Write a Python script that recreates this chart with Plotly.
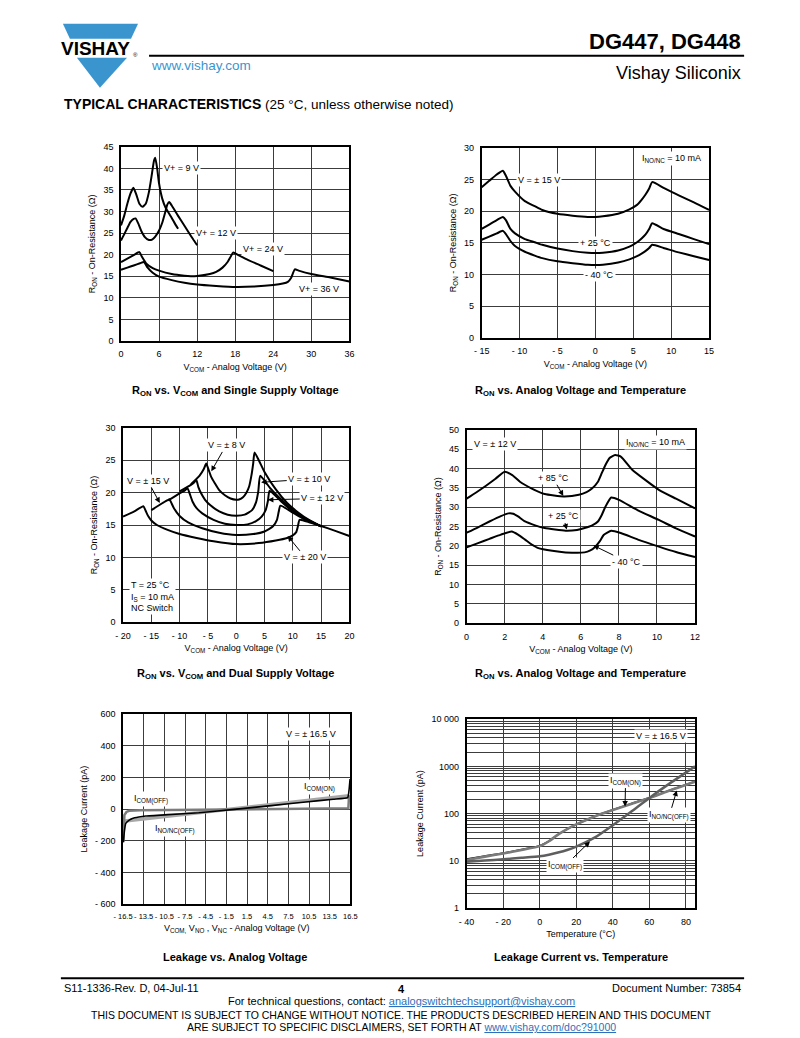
import math
import plotly.graph_objects as go

W, H = 800, 1038
FONT = "Liberation Sans, Arial, sans-serif"

# ---------------- data ----------------
# Panel 1: RON vs VCOM, single supply
p1_9v_x = [0, 0.5, 1, 1.5, 1.95, 2.4, 2.9, 3.4, 3.9, 4.4, 4.9, 5.2, 5.4, 5.7, 6.0, 6.5, 7.0, 7.5, 8.0, 8.5, 9.0]
p1_9v_y = [26.8, 29.0, 31.8, 34.2, 35.5, 34.0, 31.8, 31.1, 31.8, 34.5, 39.0, 41.8, 42.5, 40.0, 36.5, 33.0, 31.0, 29.7, 28.5, 27.2, 26.0]
p1_12v_x = [0, 0.5, 1, 1.5, 2.0, 2.3, 2.7, 3.2, 3.8, 4.4, 4.9, 5.4, 6.0, 6.5, 7.0, 7.3, 7.6, 8.0, 9.0, 10.0, 11.0, 12.0]
p1_12v_y = [23.3, 24.7, 26.2, 27.6, 28.3, 28.4, 27.3, 25.5, 24.0, 23.4, 23.5, 24.2, 25.6, 27.4, 30.0, 31.6, 32.2, 31.4, 29.0, 26.7, 24.4, 22.2]
p1_24v_x = [0, 1, 2, 2.9, 3.3, 4, 5, 6, 8, 10, 11, 12, 14, 15, 16, 16.8, 17.3, 17.7, 18.5, 20, 22, 24]
p1_24v_y = [18.3, 19.1, 19.9, 20.6, 19.5, 17.9, 16.9, 16.3, 15.5, 15.1, 15.0, 15.05, 15.5, 16.0, 17.0, 18.3, 19.6, 20.5, 19.9, 18.8, 17.5, 16.2]
p1_36v_x = [0, 1, 2, 3, 3.6, 4.2, 5, 6, 8, 10, 12, 15, 18, 21, 24, 25.5, 26.3, 26.8, 27.4, 28, 30, 33, 36]
p1_36v_y = [16.5, 17.0, 17.5, 18.0, 18.3, 17.0, 15.8, 14.9, 14.1, 13.5, 13.1, 12.75, 12.5, 12.6, 12.95, 13.3, 13.7, 14.6, 16.6, 16.3, 15.5, 14.7, 13.8]

# Panel 2: RON vs analog voltage and temperature (+/-15 V)
p2_x = [-15, -14, -13, -12.2, -11.8, -11.2, -10.6, -9.3, -8, -7, -5, -3, -1, 0, 1, 3, 4.5, 5.5, 6.1, 6.6, 7.1, 7.5, 9, 11, 13, 15]
p2_85c = [23.8, 24.8, 25.8, 26.4, 25.6, 24.0, 23.1, 21.6, 20.8, 20.2, 19.6, 19.3, 19.1, 19.1, 19.2, 19.6, 20.3, 21.0, 21.8, 22.6, 23.6, 24.6, 23.7, 22.5, 21.4, 20.2]
p2_25c = [17.2, 17.9, 18.6, 19.1, 18.6, 17.2, 16.5, 15.6, 15.1, 14.7, 14.1, 13.7, 13.45, 13.4, 13.45, 13.8, 14.4, 15.1, 15.7, 16.3, 17.2, 18.1, 17.2, 16.4, 15.6, 14.8]
p2_m40c = [15.5, 16.0, 16.5, 16.9, 16.4, 15.3, 14.5, 13.6, 13.0, 12.6, 12.1, 11.8, 11.55, 11.5, 11.55, 11.9, 12.4, 12.9, 13.3, 13.7, 14.2, 14.7, 14.2, 13.5, 12.9, 12.3]

# Panel 3: RON vs VCOM, dual supply
p3_8v_x = [-8, -6.5, -5.7, -5.3, -4.9, -4.4, -3.8, -3, -2, -1, 0, 0.5, 1.2, 1.8, 2.3, 2.7, 3.0, 3.25, 5, 7, 9, 11, 13, 15]
p3_8v_y = [21.3, 22.6, 23.7, 24.5, 23.6, 22.4, 21.5, 20.4, 19.6, 19.1, 18.9, 18.95, 19.3, 20.0, 21.0, 22.7, 24.5, 26.2, 23.2, 20.5, 18.4, 16.9, 15.7, 14.8]
p3_10v_x = [-10, -8, -7.4, -7.05, -6.7, -6.2, -5.5, -4.5, -3, -1.5, 0, 1.5, 2.8, 3.5, 3.9, 4.25, 6, 8, 10, 12, 15]
p3_10v_y = [20.2, 21.2, 21.6, 22.0, 20.9, 19.9, 18.9, 18.0, 17.1, 16.6, 16.45, 16.6, 17.3, 18.5, 20.2, 22.6, 20.7, 18.9, 17.3, 16.1, 14.8]
p3_12v_x = [-12, -10, -9, -8.6, -8.2, -7.7, -7, -6, -4, -2, 0, 2, 3.5, 4.5, 5.2, 5.6, 5.9, 8, 10, 12, 15]
p3_12v_y = [18.8, 19.9, 20.4, 20.7, 19.8, 18.6, 17.6, 16.8, 15.8, 15.2, 15.0, 15.1, 15.6, 16.3, 17.3, 18.7, 20.3, 18.6, 17.1, 16.0, 14.8]
p3_15v_x = [-15, -13, -12, -11.8, -11.5, -11, -10, -8.5, -6, -3, 0, 3, 5, 6.5, 7.2, 7.5, 7.8, 10, 12, 15]
p3_15v_y = [17.3, 18.4, 18.9, 19.0, 18.5, 17.6, 16.4, 15.4, 14.5, 13.8, 13.45, 13.6, 14.0, 14.8, 15.8, 17.0, 18.0, 16.9, 15.9, 14.8]
p3_20v_x = [-20, -18, -16.4, -16, -15.5, -15, -14, -12, -10, -7, -4, 0, 4, 7, 9, 10, 10.6, 10.9, 11.2, 13, 15, 17.5, 20]
p3_20v_y = [16.3, 17.1, 17.9, 17.2, 16.3, 15.7, 15.0, 14.2, 13.6, 13.0, 12.5, 12.05, 12.2, 12.6, 13.0, 13.4, 13.9, 14.8, 15.8, 15.4, 14.85, 14.1, 13.3]

# Panel 4: RON vs analog voltage and temperature (+/-12 V)
p4_85c_x = [0, 0.5, 1, 1.5, 2.0, 2.4, 2.8, 3.4, 4.1, 5.1, 5.9, 6.3, 6.6, 6.9, 7.1, 7.3, 7.5, 7.8, 8.1, 8.7, 9.4, 10.1, 11, 12]
p4_85c_y = [32.2, 33.8, 35.5, 37.3, 39.2, 38.3, 36.6, 34.9, 33.4, 32.8, 33.2, 33.9, 34.9, 36.6, 38.8, 41.0, 42.7, 43.5, 43.1, 39.7, 37.0, 34.5, 32.2, 29.7]
p4_25c_x = [0, 0.6, 1.2, 1.8, 2.2, 2.45, 2.7, 3.07, 3.6, 4.1, 5.2, 5.8, 6.2, 6.6, 6.9, 7.1, 7.3, 7.6, 8.0, 9.0, 10.1, 11, 12]
p4_25c_y = [23.4, 24.8, 26.3, 27.7, 28.4, 28.3, 27.6, 26.3, 25.3, 24.6, 23.9, 24.1, 24.6, 25.3, 26.3, 28.0, 30.2, 32.5, 31.9, 29.2, 26.7, 24.5, 22.4]
p4_m40c_x = [0, 0.6, 1.2, 1.8, 2.37, 2.7, 3.07, 3.4, 3.77, 4.5, 5.2, 6.2, 6.5, 6.75, 7.0, 7.2, 7.6, 8.1, 9.0, 10.1, 11, 12]
p4_m40c_y = [19.6, 20.7, 21.8, 22.9, 23.7, 22.9, 21.6, 20.4, 19.4, 18.7, 18.3, 18.3, 18.8, 19.7, 21.2, 22.8, 23.9, 23.3, 21.6, 19.8, 18.4, 17.1]

# Panel 5: leakage vs analog voltage
p5_ticks = [-16.5, -13.5, -10.5, -7.5, -4.5, -1.5, 1.5, 4.5, 7.5, 10.5, 13.5, 16.5]
p5_ticktext = ["- 16.5", "- 13.5", "- 10.5", "- 7.5", "- 4.5", "- 1.5", "1.5", "4.5", "7.5", "10.5", "13.5", "16.5"]
p5_com_on_x = [-16.2, 16.3]
p5_com_on_y = [-75, 85]
p5_com_off_x = [-16.45, -16.4, -16.3, -16.0, -15.6, -14, -10, -5, 0, 5, 10, 16.2, 16.25, 16.3]
p5_com_off_y = [-206, -120, -38, -18, -11, -8, -6, -3, 0, 2, 3, 5, 40, 88]
p5_nonc_off_x = [-16.45, -16.3, -16.1, -15.6, -15.15, -14.2, -13.2, -10, -5.5, 0, 5, 10, 14, 16.1, 16.3, 16.45]
p5_nonc_off_y = [-210, -140, -90, -70, -59, -50, -44, -35, -23, 0, 22, 45, 62, 72, 120, 190]

# Panel 6: leakage vs temperature
p6_x = [-40, -30, -20, -10, 0, 5, 10, 15, 20, 30, 40, 50, 60, 70, 85]
p6_com_on = [10.4, 12.3, 14.3, 17.0, 20.5, 26.0, 36.0, 47.0, 59.0, 87.0, 119.0, 160.0, 213.0, 297.0, 470.0]
p6_nonc_off = [10.9, 12.7, 14.6, 17.4, 21.0, 26.0, 36.0, 47.0, 59.0, 87.0, 120.0, 162.0, 216.0, 300.0, 480.0]
p6_com_off = [9.6, 10.2, 10.8, 11.6, 12.5, 13.5, 15.0, 17.0, 20.0, 31.0, 57.0, 110.0, 215.0, 405.0, 1000.0]

# ---------------- helpers ----------------
# The photographed page comes out slightly shrunk about its centre;
# target pixel positions are pre-expanded so they land where intended.
SX, SY = 0.977, 0.99
CX, CY = 400.0, 519.0


def PX(x):
    return (CX + (x - CX) / SX) / W


def PY(y):
    return 1 - (CY + (y - CY) / SY) / H


fig = go.Figure()
layout = dict(
    width=W, height=H, margin=dict(l=0, r=0, t=0, b=0),
    paper_bgcolor="white", plot_bgcolor="white", showlegend=False,
    font=dict(family=FONT, size=9, color="black"),
)
annotations = []
shapes = []

GRID = "#3c3c3c"
TS = 9  # tick / label size


def axis_pair(n, xpx, ypx, xrange, yrange, xtv, xtt, ytv, ytt, xtitle, ytitle, ylog=False):
    xs = "" if n == 1 else str(n)
    xa = dict(domain=[PX(xpx[0]), PX(xpx[1])], range=xrange, anchor="y" + xs,
              tickvals=xtv, ticktext=xtt, showgrid=True, gridcolor=GRID, gridwidth=1.3,
              zeroline=False, showline=True, mirror=True, linecolor="black", linewidth=1.5,
              ticks="", ticklabelstandoff=4, tickangle=0, tickfont=dict(size=TS),
              title=dict(text=xtitle, font=dict(size=TS), standoff=5), fixedrange=True)
    ya = dict(domain=[PY(ypx[1]), PY(ypx[0])], range=yrange, anchor="x" + xs,
              tickvals=ytv, ticktext=ytt, showgrid=True, gridcolor=GRID, gridwidth=1.3,
              zeroline=False, showline=True, mirror=True, linecolor="black", linewidth=1.5,
              ticks="", ticklabelstandoff=4, tickfont=dict(size=TS),
              title=dict(text=ytitle, font=dict(size=TS), standoff=6), fixedrange=True)
    if ylog:
        ya["type"] = "log"
    layout["xaxis" + xs] = xa
    layout["yaxis" + xs] = ya
    return "x" + xs, "y" + xs


def line(xr, yr, x, y, color="black", width=2):
    fig.add_trace(go.Scatter(x=x, y=y, xaxis=xr, yaxis=yr, mode="lines",
                             line=dict(color=color, width=width, shape="spline", smoothing=0.5),
                             hoverinfo="skip"))


def label(xr, yr, x, y, text, bg=True, align="center", xanchor="center", head=None):
    a = dict(x=x, y=y, xref=xr, yref=yr, text=text, showarrow=False,
             font=dict(size=TS), bgcolor="white" if bg else None,
             borderpad=1, align=align, xanchor=xanchor)
    if head is not None:
        # text box sits at (x, y); arrow points to the curve at head
        a.update(x=head[0], y=head[1], ax=x, ay=y, axref=xr, ayref=yr, showarrow=True,
                 arrowhead=2, arrowsize=1.1, arrowwidth=1, arrowcolor="black", standoff=0)
    annotations.append(a)


def page_text(x, y, text, size, xanchor="center", color="black"):
    annotations.append(dict(x=PX(x), y=PY(y), xref="paper", yref="paper", text=text,
                            showarrow=False, font=dict(size=size, color=color),
                            xanchor=xanchor, yanchor="middle"))


def caption(xc, yc, text):
    page_text(xc, yc, text, 11)


RON_T = "R<sub>ON</sub> - On-Resistance (Ω)"
VCOM_T = "V<sub>COM</sub> - Analog Voltage (V)"

# ---------------- panel 1 ----------------
xr, yr = axis_pair(1, (120, 348), (147, 341), [0, 36], [0, 45],
                   [0, 6, 12, 18, 24, 30, 36], ["0", "6", "12", "18", "24", "30", "36"],
                   list(range(0, 50, 5)), [str(v) for v in range(0, 50, 5)], VCOM_T, RON_T)
line(xr, yr, p1_9v_x, p1_9v_y)
line(xr, yr, p1_12v_x, p1_12v_y)
line(xr, yr, p1_24v_x, p1_24v_y)
line(xr, yr, p1_36v_x, p1_36v_y)
label(xr, yr, 9.5, 40, "V+ = 9 V")
label(xr, yr, 15.0, 25.1, "V+ = 12 V")
label(xr, yr, 22.4, 21.4, "V+ = 24 V")
label(xr, yr, 31.2, 12.0, "V+ = 36 V")
caption(234, 391, "<b>R<sub>ON</sub> vs. V<sub>COM</sub> and Single Supply Voltage</b>")

# ---------------- panel 2 ----------------
xr, yr = axis_pair(2, (480, 707), (148, 338), [-15, 15], [0, 30],
                   [-15, -10, -5, 0, 5, 10, 15], ["- 15", "- 10", "- 5", "0", "5", "10", "15"],
                   list(range(0, 35, 5)), [str(v) for v in range(0, 35, 5)], VCOM_T, RON_T)
line(xr, yr, p2_x, p2_85c)
line(xr, yr, p2_x, p2_25c)
line(xr, yr, p2_x, p2_m40c)
label(xr, yr, -7.4, 24.9, "V = ± 15 V")
label(xr, yr, 0, 15.0, "+ 25 °C")
label(xr, yr, 0.6, 9.9, "- 40 °C")
label(xr, yr, 10.0, 28.4, "I<sub>NO/NC</sub> = 10 mA")
caption(579, 391, "<b>R<sub>ON</sub> vs. Analog Voltage and Temperature</b>")

# ---------------- panel 3 ----------------
xr, yr = axis_pair(3, (122, 348), (428, 622), [-20, 20], [0, 30],
                   list(range(-20, 25, 5)),
                   ["- 20", "- 15", "- 10", "- 5", "0", "5", "10", "15", "20"],
                   list(range(0, 35, 5)), [str(v) for v in range(0, 35, 5)], VCOM_T, RON_T)
line(xr, yr, p3_8v_x, p3_8v_y)
line(xr, yr, p3_10v_x, p3_10v_y)
line(xr, yr, p3_12v_x, p3_12v_y)
line(xr, yr, p3_15v_x, p3_15v_y)
line(xr, yr, p3_20v_x, p3_20v_y)
label(xr, yr, -1.8, 27.3, "V = ± 8 V", head=(-4.4, 23.3))
label(xr, yr, 12.9, 22.1, "V = ± 10 V", head=(4.4, 21.6))
label(xr, yr, 15.2, 19.1, "V = ± 12 V", head=(5.6, 18.9))
label(xr, yr, -15.6, 21.8, "V = ± 15 V", head=(-13.5, 18.4))
label(xr, yr, 12.2, 10.0, "V = ± 20 V", head=(9.1, 13.3))
label(xr, yr, -18.9, 4.0, "T = 25 °C<br>I<sub>S</sub> = 10 mA<br>NC Switch", align="left", xanchor="left")
caption(234, 674, "<b>R<sub>ON</sub> vs. V<sub>COM</sub> and Dual Supply Voltage</b>")

# ---------------- panel 4 ----------------
xr, yr = axis_pair(4, (465, 693), (430, 623), [0, 12], [0, 50],
                   list(range(0, 14, 2)), [str(v) for v in range(0, 14, 2)],
                   list(range(0, 55, 5)), [str(v) for v in range(0, 55, 5)], VCOM_T, RON_T)
line(xr, yr, p4_85c_x, p4_85c_y)
line(xr, yr, p4_25c_x, p4_25c_y)
line(xr, yr, p4_m40c_x, p4_m40c_y)
label(xr, yr, 4.55, 37.5, "+ 85 °C", head=(5.08, 32.9))
label(xr, yr, 5.08, 27.6, "+ 25 °C", head=(5.26, 24.2))
label(xr, yr, 8.4, 15.9, "- 40 °C", head=(6.66, 20.1))
label(xr, yr, 1.5, 46.4, "V = ± 12 V")
label(xr, yr, 9.9, 46.8, "I<sub>NO/NC</sub> = 10 mA")
caption(579, 674, "<b>R<sub>ON</sub> vs. Analog Voltage and Temperature</b>")

# ---------------- panel 5 ----------------
xr, yr = axis_pair(5, (122, 349), (714, 904), [-16.5, 16.5], [-600, 600],
                   p5_ticks, p5_ticktext,
                   [-600, -400, -200, 0, 200, 400, 600],
                   ["- 600", "- 400", "- 200", "0", "200", "400", "600"],
                   "V<sub>COM,</sub> V<sub>NO</sub> , V<sub>NC</sub> - Analog Voltage (V)",
                   "Leakage Current (pA)")
layout["xaxis5"]["tickfont"] = dict(size=7.5)
fig.add_trace(go.Scatter(x=p5_com_on_x, y=p5_com_on_y, xaxis=xr, yaxis=yr, mode="lines",
                         line=dict(color="#a8a8a8", width=3.5), hoverinfo="skip"))
fig.add_trace(go.Scatter(x=p5_com_off_x, y=p5_com_off_y, xaxis=xr, yaxis=yr, mode="lines",
                         line=dict(color="#7c7c7c", width=2.5), hoverinfo="skip"))
fig.add_trace(go.Scatter(x=p5_nonc_off_x, y=p5_nonc_off_y, xaxis=xr, yaxis=yr, mode="lines",
                         line=dict(color="black", width=1.6, shape="spline", smoothing=0.4),
                         hoverinfo="skip"))
label(xr, yr, 10.8, 472, "V = ± 16.5 V")
label(xr, yr, 12.0, 137, "I<sub>COM(ON)</sub>")
label(xr, yr, -12.4, 61, "I<sub>COM(OFF)</sub>")
label(xr, yr, -9.0, -128, "I<sub>NO/NC(OFF)</sub>")
caption(234, 957, "<b>Leakage vs. Analog Voltage</b>")

# ---------------- panel 6 ----------------
minor_vals = [m * 10 ** d for d in range(0, 4) for m in range(2, 10)]
xr, yr = axis_pair(6, (465, 693), (719, 908), [-40, 85], [0, 4],
                   [-40, -20, 0, 20, 40, 60, 80], ["- 40", "- 20", "0", "20", "40", "60", "80"],
                   [1, 10, 100, 1000, 10000], ["1", "10", "100", "1000", "10 000"],
                   "Temperature (°C)", "Leakage Current (pA)", ylog=True)
layout["yaxis6"]["minor"] = dict(tickvals=minor_vals, showgrid=True, gridcolor=GRID, gridwidth=1.1, ticks="")
fig.add_trace(go.Scatter(x=p6_x, y=p6_nonc_off, xaxis=xr, yaxis=yr, mode="lines",
                         line=dict(color="black", width=1.6, shape="spline", smoothing=0.6), hoverinfo="skip"))
fig.add_trace(go.Scatter(x=p6_x, y=p6_com_on, xaxis=xr, yaxis=yr, mode="lines",
                         line=dict(color="#7a7a7a", width=2.6, shape="spline", smoothing=0.6), hoverinfo="skip"))
fig.add_trace(go.Scatter(x=p6_x, y=p6_com_off, xaxis=xr, yaxis=yr, mode="lines",
                         line=dict(color="#5e5e5e", width=2.5, shape="spline", smoothing=0.6), hoverinfo="skip"))
L = math.log10
label(xr, yr, 66.4, L(4460), "V = ± 16.5 V")
label(xr, yr, 47.0, L(500), "I<sub>COM(ON)</sub>", head=(46.7, L(141)))
label(xr, yr, 71.0, L(92), "I<sub>NO/NC(OFF)</sub>", head=(75.0, L(308)))
label(xr, yr, 14.0, L(8.0), "I<sub>COM(OFF)</sub>", head=(27.5, L(25.6)))
caption(579, 957, "<b>Leakage Current vs. Temperature</b>")

# ---------------- page header ----------------
BLUE = "#3a95cf"
LINK = "#2f6fba"


def path(points):
    return "M " + " L ".join(f"{PX(x):.5f},{PY(y):.5f}" for x, y in points) + " Z"


shapes.append(dict(type="path", xref="paper", yref="paper",
                   path=path([(62, 24), (137, 24), (130, 39), (69, 39)]),
                   fillcolor=BLUE, line=dict(width=0)))
shapes.append(dict(type="path", xref="paper", yref="paper",
                   path=path([(76, 58), (126, 58), (99, 88)]),
                   fillcolor=BLUE, line=dict(width=0)))
page_text(95, 49, "<b>VISHAY</b>", 19)
page_text(134, 55, "®", 6)
shapes.append(dict(type="line", xref="paper", yref="paper", x0=PX(148), x1=PX(742),
                   y0=PY(56), y1=PY(56), line=dict(color="black", width=2)))
page_text(148, 66, "www.vishay.com", 13.5, xanchor="left", color=BLUE)
page_text(741, 42, "<b>DG447, DG448</b>", 22, xanchor="right")
page_text(741, 73, "Vishay Siliconix", 18, xanchor="right")
page_text(61, 104, "<span style='font-size:14px'><b>TYPICAL CHARACTERISTICS</b></span>"
          " (25 °C, unless otherwise noted)", 13.5, xanchor="left")

# ---------------- page footer ----------------
shapes.append(dict(type="line", xref="paper", yref="paper", x0=PX(60), x1=PX(742),
                   y0=PY(978), y1=PY(978), line=dict(color="black", width=2)))
page_text(61, 988, "S11-1336-Rev. D, 04-Jul-11", 11, xanchor="left")
page_text(400, 989, "<b>4</b>", 11)
page_text(741, 988, "Document Number: 73854", 11, xanchor="right")
page_text(400, 1001, "For technical questions, contact: "
          f"<span style='color:{LINK}'><u>analogswitchtechsupport@vishay.com</u></span>", 11)
page_text(400, 1015, "THIS DOCUMENT IS SUBJECT TO CHANGE WITHOUT NOTICE. "
          "THE PRODUCTS DESCRIBED HEREIN AND THIS DOCUMENT", 10.5)
page_text(400, 1027, "ARE SUBJECT TO SPECIFIC DISCLAIMERS, SET FORTH AT "
          f"<span style='color:{LINK}'><u>www.vishay.com/doc?91000</u></span>", 10.5)

layout["annotations"] = annotations
layout["shapes"] = shapes
fig.update_layout(**layout)
fig.write_html("out.html", config={"displayModeBar": False},
               post_script="document.body.style.margin='0';document.body.style.overflow='hidden';")
